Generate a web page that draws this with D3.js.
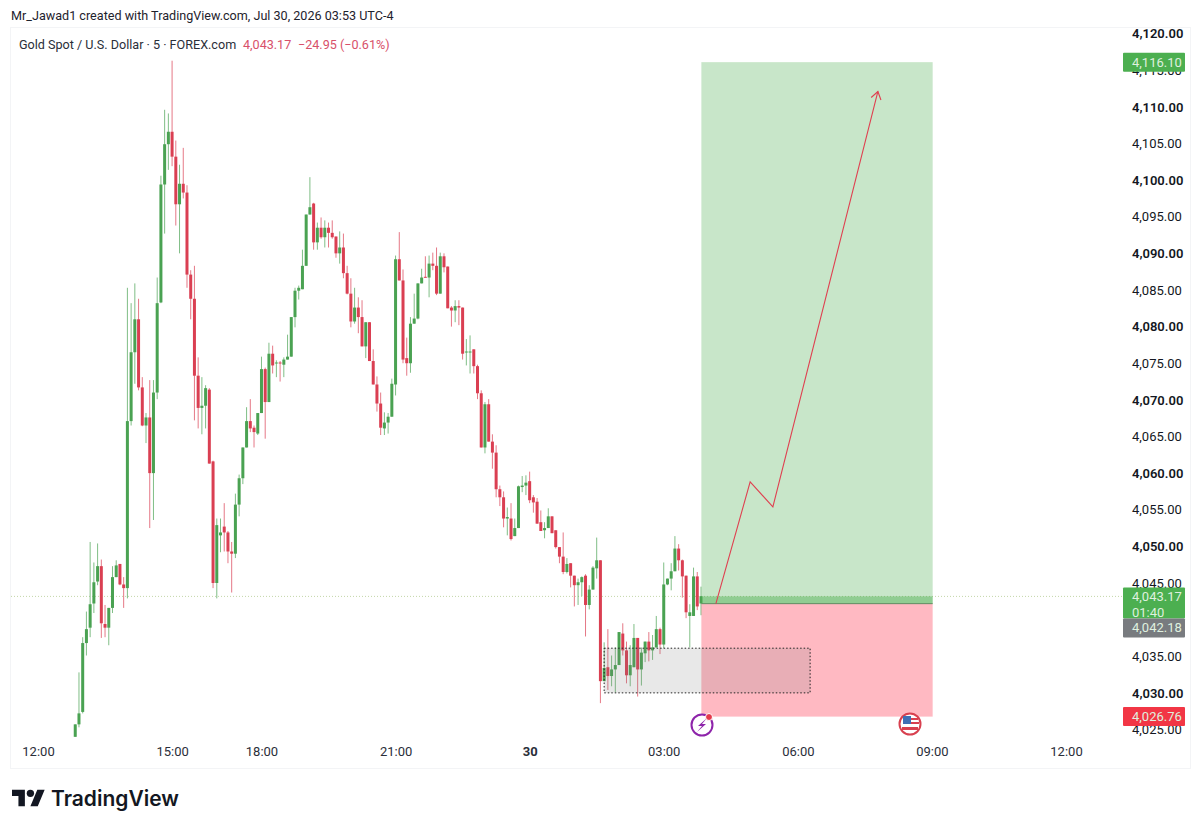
<!DOCTYPE html>
<html>
<head>
<meta charset="utf-8">
<title>Gold Spot / U.S. Dollar</title>
<script src="https://cdn.jsdelivr.net/npm/d3@7"></script>
<style>
body { margin: 0; background: #fff; }
text { font-family: Roboto, sans-serif; }
</style>
</head>
<body>
<svg id="chart" width="1200" height="830"></svg>
<script>
// 5 minute candles, first one is bar 10 (bar 0 = 12:00)
var firstBar = 10;
var opens = [4024.0,4025.7,4027.4,4036.8,4038.9,4042.2,4045.2,4047.3,4039.4,4038.9,
4041.6,4045.8,4047.6,4044.8,4044.3,4067.1,4076.5,4081.0,4071.7,4066.5,
4067.6,4060.0,4071.0,4083.3,4099.4,4104.9,4106.6,4103.2,4096.7,4099.5,
4098.3,4087.1,4083.8,4073.3,4068.9,4069.2,4071.4,4061.6,4045.0,4051.5,
4052.7,4051.9,4049.3,4049.0,4055.7,4059.3,4063.5,4067.1,4066.2,4065.4,
4068.2,4074.2,4069.7,4076.3,4075.0,4075.1,4074.8,4075.5,4075.9,4081.3,
4084.9,4085.1,4088.3,4095.3,4096.8,4091.5,4093.5,4092.2,4093.5,4092.8,
4092.3,4090.0,4090.8,4087.3,4084.5,4080.7,4082.6,4081.3,4077.3,4080.6,
4075.3,4072.1,4069.5,4066.1,4066.9,4067.7,4072.1,4089.2,4086.3,4075.7,
4075.0,4080.4,4081.1,4085.9,4086.8,4086.7,4088.6,4088.3,4084.5,4089.6,
4088.2,4082.6,4082.2,4082.8,4082.6,4076.5,4076.5,4076.9,4074.6,4070.9,
4063.5,4069.4,4064.3,4062.8,4057.8,4056.7,4053.8,4053.8,4051.4,4052.5,
4058.1,4058.3,4058.9,4056.7,4056.1,4053.3,4052.2,4052.5,4054.1,4052.2,
4049.9,4048.6,4046.5,4047.7,4046.0,4044.7,4045.1,4046.0,4042.0,4044.1,
4047.0,4048.1,4031.6,4033.5,4032.3,4033.2,4033.8,4038.1,4035.8,4032.4,
4033.5,4037.5,4033.2,4035.4,4037.0,4035.8,4036.2,4038.7,4036.6,4044.8,
4045.6,4046.6,4049.7,4048.1,4046.0,4040.5,4040.5,4045.9,4042.2];
var highs = [4025.7,4032.8,4037.6,4041.1,4050.6,4047.8,4050.4,4048.2,4042.0,4041.6,
4047.3,4048.1,4047.6,4045.8,4085.3,4083.2,4085.9,4083.8,4073.1,4068.2,
4072.7,4072.7,4086.7,4100.6,4109.6,4109.1,4116.3,4105.4,4102.1,4104.4,
4099.3,4087.7,4088.3,4075.8,4073.1,4072.0,4071.6,4061.7,4053.8,4053.8,
4055.9,4052.1,4050.6,4057.2,4059.8,4063.5,4069.0,4070.1,4066.5,4068.2,
4075.9,4074.4,4077.8,4077.4,4075.4,4075.3,4075.8,4078.9,4081.3,4085.3,
4085.6,4090.5,4095.3,4100.4,4096.9,4094.2,4094.9,4094.5,4094.2,4094.5,
4092.3,4093.0,4092.7,4088.3,4086.6,4085.3,4084.0,4083.6,4080.6,4080.6,
4076.9,4073.2,4071.0,4068.3,4068.2,4072.9,4089.7,4092.9,4087.8,4078.5,
4081.3,4084.5,4085.9,4087.9,4089.6,4089.7,4090.1,4090.8,4090.1,4090.0,
4088.2,4082.8,4083.6,4083.6,4082.6,4078.3,4078.8,4076.9,4074.8,4071.3,
4069.7,4070.1,4065.3,4063.8,4058.3,4057.5,4055.3,4055.9,4053.8,4058.3,
4059.6,4059.7,4060.2,4057.0,4056.6,4054.9,4053.3,4055.2,4054.1,4052.2,
4049.9,4051.9,4048.4,4047.7,4046.0,4045.6,4045.9,4046.2,4044.7,4047.3,
4051.2,4048.1,4036.9,4038.7,4035.1,4036.2,4038.3,4039.5,4037.0,4036.5,
4039.4,4037.5,4036.2,4037.0,4038.3,4037.9,4040.5,4038.9,4047.8,4045.6,
4047.7,4051.4,4050.3,4048.2,4046.0,4042.1,4047.1,4046.5,4044.5];
var lows = [4024.0,4025.3,4027.2,4035.1,4037.6,4040.9,4044.7,4037.5,4037.6,4036.5,
4040.9,4045.8,4044.7,4041.6,4042.9,4066.5,4072.2,4071.3,4066.4,4064.1,
4052.5,4053.6,4070.1,4083.2,4092.7,4101.4,4101.9,4093.8,4090.0,4097.5,
4085.3,4081.0,4067.2,4066.1,4065.3,4066.1,4061.3,4044.3,4042.9,4049.2,
4049.3,4047.7,4043.7,4048.4,4054.1,4058.5,4063.5,4065.6,4063.5,4065.2,
4068.2,4064.7,4069.7,4073.6,4073.1,4072.5,4073.1,4075.5,4075.9,4079.9,
4083.7,4085.1,4088.3,4095.3,4090.5,4090.5,4092.0,4090.8,4090.8,4092.0,
4089.4,4088.6,4086.6,4084.4,4079.9,4080.4,4079.1,4077.3,4075.7,4075.3,
4072.1,4068.4,4065.2,4065.2,4065.4,4067.7,4070.6,4086.3,4075.0,4073.3,
4073.7,4080.4,4081.0,4085.9,4086.7,4084.0,4087.7,4084.3,4084.5,4087.4,
4082.5,4080.0,4080.6,4080.2,4075.5,4074.7,4073.6,4073.6,4070.1,4063.5,
4062.7,4064.3,4060.6,4056.7,4055.5,4052.6,4051.5,4050.8,4051.4,4052.5,
4057.4,4057.0,4055.9,4054.6,4053.1,4052.1,4051.1,4052.5,4051.8,4049.7,
4047.7,4046.2,4046.3,4044.4,4041.8,4042.0,4043.2,4037.7,4041.4,4044.1,
4045.6,4028.6,4031.6,4030.4,4030.9,4030.1,4033.8,4035.1,4031.3,4030.9,
4033.5,4029.5,4031.0,4034.2,4034.3,4034.5,4036.2,4035.3,4036.1,4044.7,
4044.0,4046.6,4046.7,4043.0,4040.2,4036.2,4040.5,4041.3,4040.6];
var closes = [4025.7,4027.2,4036.8,4038.7,4042.1,4045.1,4047.3,4039.5,4038.9,4041.6,
4045.8,4047.4,4044.8,4044.3,4067.1,4076.5,4081.0,4071.7,4066.5,4067.6,
4060.0,4071.0,4083.2,4099.4,4104.9,4106.6,4103.2,4096.7,4099.5,4098.3,
4087.1,4083.8,4073.3,4068.9,4069.2,4071.6,4061.3,4045.0,4052.9,4051.9,
4051.9,4049.3,4049.0,4055.7,4059.3,4063.5,4067.1,4066.1,4065.6,4068.2,
4074.2,4069.7,4076.3,4074.7,4075.1,4075.0,4075.5,4075.9,4081.3,4084.9,
4085.3,4088.3,4095.3,4096.3,4091.5,4093.5,4092.2,4093.5,4092.8,4092.2,
4090.0,4090.8,4087.3,4084.5,4080.7,4082.6,4081.3,4077.3,4080.6,4075.3,
4072.1,4069.5,4066.2,4066.9,4067.7,4072.2,4089.2,4086.3,4075.5,4075.0,
4080.4,4081.1,4085.9,4086.7,4086.7,4088.6,4088.3,4084.5,4089.6,4088.1,
4082.5,4082.2,4082.8,4082.6,4076.3,4076.6,4076.6,4074.6,4070.9,4063.5,
4069.4,4064.3,4062.8,4057.8,4056.7,4053.8,4054.0,4051.0,4052.5,4058.2,
4058.3,4058.7,4056.3,4056.0,4053.1,4052.1,4052.5,4054.1,4051.8,4049.9,
4048.6,4046.5,4047.6,4046.0,4044.7,4045.1,4045.8,4042.0,4044.1,4047.1,
4048.1,4031.6,4033.4,4032.3,4033.2,4033.8,4038.3,4035.8,4032.4,4033.8,
4037.5,4033.2,4035.5,4037.0,4035.8,4036.2,4038.7,4036.6,4044.8,4045.6,
4046.6,4049.7,4048.1,4045.9,4041.0,4041.0,4045.9,4041.8,4043.2];

// 4,040.00 sits fully behind the price tags in the picture so it is left out
var priceTicks = [4025,4030,4035,4045,4050,4055,4060,4065,4070,4075,4080,4085,4090,4095,4100,4105,4110,4115,4120];
var timeBars = [0,36,60,96,132,168,204,240,276];
var timeLabels = ["12:00","15:00","18:00","21:00","30","03:00","06:00","09:00","12:00"];

// long position tool
var lastPrice = 4043.17, targetPrice = 4116.10, entryPrice = 4042.18, stopPrice = 4026.76;
var positionBars = [178.1, 240.2];
// grey zone
var zoneBars = [152, 207.3], zonePrices = [4030.0, 4036.1];
// red hand drawn arrow
var arrowBars = [182, 191.2, 197.3, 225.5];
var arrowPrices = [4042.18, 4058.8, 4055.4, 4112.1];

var GREEN = "#4caf50", CANDLE_GREEN = "#4aa252", RED = "#da3f52";

var svg = d3.select("#chart");
var x = d3.scaleLinear().domain([0, 276]).range([38, 1066]);
var y = d3.scaleLinear().domain([4025, 4120]).range([729.5, 33.6]);
var fmt = d3.format(",.2f");

// pane frame
svg.append("rect").attr("x", 10.5).attr("y", 27.5).attr("width", 1180).attr("height", 741)
	.attr("fill", "none").attr("stroke", "#f3f4f6");

// last price line
svg.append("line").attr("x1", 11).attr("x2", 1123).attr("y1", y(lastPrice)).attr("y2", y(lastPrice))
	.attr("stroke", "#c3d6a8").attr("stroke-dasharray", "1,2");

// candles
var candles = d3.range(opens.length).map(function (i) {
	return {bar: firstBar + i, o: opens[i], h: highs[i], l: lows[i], c: closes[i]};
});
var g = svg.append("g").style("filter", "blur(0.35px)");
g.selectAll("line").data(candles).enter().append("line")
	.attr("x1", function (d) { return x(d.bar); })
	.attr("x2", function (d) { return x(d.bar); })
	.attr("y1", function (d) { return y(d.h); })
	.attr("y2", function (d) { return y(d.l); })
	.attr("stroke", function (d) { return d.c >= d.o ? CANDLE_GREEN : RED; })
	.attr("stroke-opacity", 0.7);
g.selectAll("rect").data(candles).enter().append("rect")
	.attr("x", function (d) { return x(d.bar) - 1.5; })
	.attr("width", 3)
	.attr("y", function (d) { return y(Math.max(d.o, d.c)); })
	.attr("height", function (d) { return Math.max(1, Math.abs(y(d.o) - y(d.c))); })
	.attr("fill", function (d) { return d.c >= d.o ? CANDLE_GREEN : RED; });

// position boxes
var px = x(positionBars[0]), pw = x(positionBars[1]) - px;
svg.append("rect").attr("x", px).attr("width", pw).attr("y", y(targetPrice)).attr("height", y(entryPrice) - y(targetPrice))
	.attr("fill", GREEN).attr("fill-opacity", 0.31);
svg.append("rect").attr("x", px).attr("width", pw).attr("y", y(lastPrice)).attr("height", y(entryPrice) - y(lastPrice))
	.attr("fill", GREEN).attr("fill-opacity", 0.45);
svg.append("rect").attr("x", px).attr("width", pw).attr("y", y(entryPrice)).attr("height", y(stopPrice) - y(entryPrice))
	.attr("fill", "#ff3d55").attr("fill-opacity", 0.36);
svg.append("line").attr("x1", px).attr("x2", px + pw).attr("y1", y(entryPrice)).attr("y2", y(entryPrice))
	.attr("stroke", "#5f8f62").attr("stroke-width", 1);

// grey zone
svg.append("rect").attr("x", x(zoneBars[0])).attr("width", x(zoneBars[1]) - x(zoneBars[0]))
	.attr("y", y(zonePrices[1])).attr("height", y(zonePrices[0]) - y(zonePrices[1]))
	.attr("fill", "#808080").attr("fill-opacity", 0.18)
	.attr("stroke", "#222").attr("stroke-dasharray", "1.5,2");

// arrow
var arrowPts = arrowBars.map(function (b, i) { return [x(b), y(arrowPrices[i])]; });
var arrowLine = d3.line();
svg.append("path").attr("d", arrowLine(arrowPts)).attr("fill", "none").attr("stroke", "#df4050").attr("stroke-width", 1.1);
var tip = arrowPts[3], prev = arrowPts[2];
var ang = Math.atan2(tip[1] - prev[1], tip[0] - prev[0]);
svg.append("path").attr("d", arrowLine([
	[tip[0] + 9 * Math.cos(ang + 2.55), tip[1] + 9 * Math.sin(ang + 2.55)],
	tip,
	[tip[0] + 9 * Math.cos(ang - 2.55), tip[1] + 9 * Math.sin(ang - 2.55)]
])).attr("fill", "none").attr("stroke", "#df4050").attr("stroke-width", 1.1);

// axes
var yAxis = d3.axisRight(y).tickValues(priceTicks).tickSize(0).tickFormat(fmt);
var yg = svg.append("g").attr("transform", "translate(1123,0)").call(yAxis);
yg.select(".domain").remove();
yg.selectAll("text").attr("x", 9)
	.style("font-size", "13px")
	.style("font-weight", function (d) { return d % 10 == 0 ? 600 : 400; })
	.attr("fill", "#131722");

var xAxis = d3.axisBottom(x).tickValues(timeBars).tickSize(0)
	.tickFormat(function (d, i) { return timeLabels[i]; });
var xg = svg.append("g").attr("transform", "translate(0,744)").call(xAxis);
xg.select(".domain").remove();
xg.selectAll("text").attr("y", 3)
	.style("font-size", "13px")
	.style("font-weight", function (d, i) { return timeLabels[i] == "30" ? 700 : 400; })
	.attr("fill", "#2a2e39");

// price labels on the axis
function priceTag(top, h, color, lines) {
	svg.append("rect").attr("x", 1123).attr("y", top).attr("width", 62).attr("height", h).attr("rx", 1).attr("fill", color);
	lines.forEach(function (t, i) {
		svg.append("text").attr("x", 1132).attr("y", top + 14 + i * 15.5).text(t)
			.style("font-size", "13px").attr("fill", "#dff0df");
	});
}
priceTag(y(targetPrice) - 9.5, 19, GREEN, [fmt(targetPrice)]);
priceTag(y(lastPrice) - 9, 31, GREEN, [fmt(lastPrice), "01:40"]);
priceTag(y(lastPrice) + 22, 19, "#787b7f", [fmt(entryPrice)]);
priceTag(y(stopPrice) - 9.5, 19, "#f23645", [fmt(stopPrice)]);

// header
svg.append("text").attr("x", 11).attr("y", 20).text("Mr_Jawad1 created with TradingView.com, Jul 30, 2026 03:53 UTC-4")
	.style("font-size", "12.6px").attr("fill", "#1e222d");
var legend = svg.append("text").attr("x", 19).attr("y", 49).style("font-size", "12.6px");
legend.append("tspan").text("Gold Spot / U.S. Dollar · 5 · FOREX.com").attr("fill", "#2a2e39");
legend.append("tspan").attr("x", 243).text(fmt(lastPrice)).attr("fill", "#d8506a");
legend.append("tspan").attr("x", 298).text("−24.95 (−0.61%)").attr("fill", "#d8506a");

// lightning event icon
var bolt = svg.append("g").attr("transform", "translate(702,725)");
bolt.append("circle").attr("r", 10.5).attr("fill", "#fff").attr("stroke", "#8e24aa").attr("stroke-width", 2);
bolt.append("path").attr("d", "M5,-7 L-4,1 L0,1 L-5,7 L4,-1 L0,-1 Z").attr("fill", "#8e24aa");
bolt.append("circle").attr("cx", 7).attr("cy", -8).attr("r", 3.5).attr("fill", "#e5394b").attr("stroke", "#fff");

// US flag event icon
var flag = svg.append("g").attr("transform", "translate(910,724)");
flag.append("circle").attr("r", 10.5).attr("fill", "#fff").attr("stroke", "#d8404f").attr("stroke-width", 2);
flag.append("rect").attr("x", -7).attr("y", -8).attr("width", 8).attr("height", 8).attr("fill", "#3f6fb5");
flag.append("rect").attr("x", 1).attr("y", -6).attr("width", 7).attr("height", 2).attr("fill", "#d8404f");
flag.append("rect").attr("x", 1).attr("y", -2).attr("width", 8).attr("height", 2).attr("fill", "#d8404f");
flag.append("rect").attr("x", -8).attr("y", 3).attr("width", 16).attr("height", 3).attr("fill", "#d8404f");

// TradingView logo
var logo = svg.append("g").attr("transform", "translate(12,786) scale(0.92)").attr("fill", "#131722");
logo.append("path").attr("d", "M14 22H7V11H0V4h14v18zM28 22h-8l7.5-18h8L28 22z");
logo.append("circle").attr("cx", 20).attr("cy", 8).attr("r", 4);
svg.append("text").attr("x", 51).attr("y", 806).text("TradingView")
	.style("font-family", "Inter, sans-serif").style("font-size", "21px").style("font-weight", 600).attr("fill", "#131722");
</script>
</body>
</html>
